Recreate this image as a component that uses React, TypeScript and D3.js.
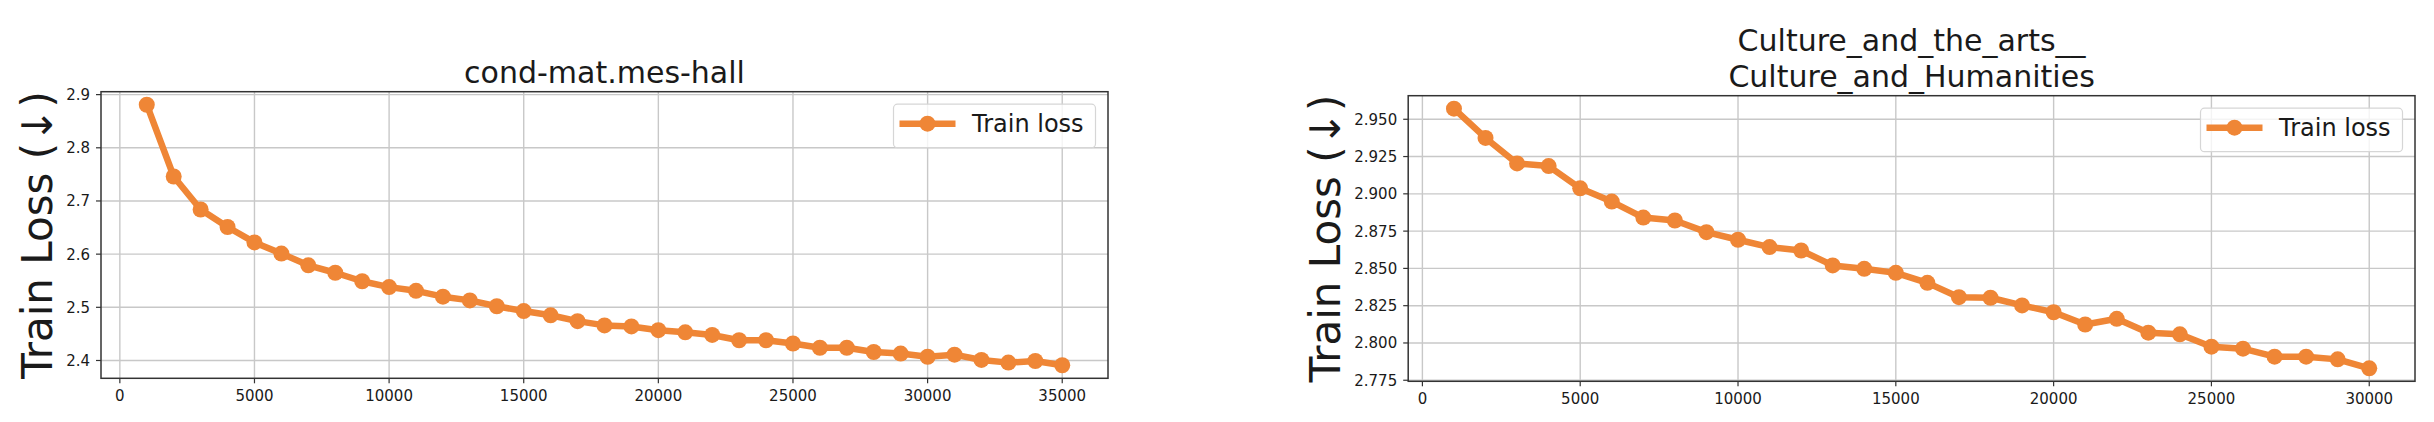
import React from "react";
import * as d3 from "d3";

// ---------- data ----------
const stepsA = [1000,2000,3000,4000,5000,6000,7000,8000,9000,10000,11000,12000,13000,14000,15000,16000,17000,18000,19000,20000,21000,22000,23000,24000,25000,26000,27000,28000,29000,30000,31000,32000,33000,34000,35000];
const lossA = [2.881,2.746,2.684,2.651,2.622,2.601,2.579,2.565,2.549,2.538,2.531,2.520,2.513,2.502,2.493,2.485,2.474,2.466,2.464,2.457,2.453,2.448,2.438,2.438,2.432,2.424,2.424,2.416,2.413,2.407,2.411,2.401,2.396,2.399,2.391];
const xTicksA = [0,5000,10000,15000,20000,25000,30000,35000];
const yTicksA = [2.4,2.5,2.6,2.7,2.8,2.9];
const titleA = ["cond-mat.mes-hall"];

const stepsB = [1000,2000,3000,4000,5000,6000,7000,8000,9000,10000,11000,12000,13000,14000,15000,16000,17000,18000,19000,20000,21000,22000,23000,24000,25000,26000,27000,28000,29000,30000];
const lossB = [2.9571,2.9375,2.9204,2.9186,2.9037,2.8948,2.8841,2.8821,2.8743,2.8692,2.8643,2.8620,2.8520,2.8497,2.8470,2.8403,2.8307,2.8303,2.8252,2.8206,2.8124,2.8162,2.8069,2.8058,2.7975,2.7962,2.7908,2.7908,2.7890,2.7830];
const xTicksB = [0,5000,10000,15000,20000,25000,30000];
const yTicksB = [2.775,2.800,2.825,2.850,2.875,2.900,2.925,2.950];
const titleB = ["Culture_and_the_arts__", "Culture_and_Humanities"];

const seriesName = "Train loss";
const yLabel = "Train Loss (\u2193)";

// ---------- style ----------
const FONT = "DejaVu Sans, Verdana, sans-serif";
const ORANGE = "#ef8636";
const GRID = "#c8c8c8";
const TEXT = "#1a1a1a";

type PanelProps = {
  steps: number[];
  loss: number[];
  xTicks: number[];
  yTicks: number[];
  title: string[];
  left: number; right: number; top: number; bottom: number;
  ylabelX: number;
  yFmt: (v: number) => string;
};

function Panel(p: PanelProps) {
  const xMin = d3.min(p.steps)!, xMax = d3.max(p.steps)!;
  const yMin = d3.min(p.loss)!, yMax = d3.max(p.loss)!;
  const xm = (xMax - xMin) * 0.05, ym = (yMax - yMin) * 0.05;
  const x = d3.scaleLinear().domain([xMin - xm, xMax + xm]).range([p.left, p.right]);
  const y = d3.scaleLinear().domain([yMin - ym, yMax + ym]).range([p.bottom, p.top]);
  const pts = p.steps.map((s, i) => [s, p.loss[i]] as [number, number]);
  const line = d3.line<[number, number]>().x(d => x(d[0])).y(d => y(d[1]));
  const cx = (p.left + p.right) / 2;
  const cy = (p.top + p.bottom) / 2;

  // legend geometry
  const lw = 202, lh = 43.5;
  const lx = p.right - 12.5 - lw, ly = p.top + 12.5;

  return (
    <g>
      {/* grid */}
      {p.xTicks.map(t => (
        <line key={"gx" + t} x1={x(t)} x2={x(t)} y1={p.top} y2={p.bottom} stroke={GRID} strokeWidth={1.4} />
      ))}
      {p.yTicks.map(t => (
        <line key={"gy" + t} x1={p.left} x2={p.right} y1={y(t)} y2={y(t)} stroke={GRID} strokeWidth={1.4} />
      ))}
      {/* ticks & labels */}
      {p.xTicks.map(t => (
        <g key={"tx" + t}>
          <line x1={x(t)} x2={x(t)} y1={p.bottom} y2={p.bottom + 5} stroke="#333" strokeWidth={1.2} />
          <text x={x(t)} y={p.bottom + 23} textAnchor="middle" fontSize={15} fill={TEXT} fontFamily={FONT}>{t}</text>
        </g>
      ))}
      {p.yTicks.map(t => (
        <g key={"ty" + t}>
          <line x1={p.left - 5} x2={p.left} y1={y(t)} y2={y(t)} stroke="#333" strokeWidth={1.2} />
          <text x={p.left - 11} y={y(t) + 5.5} textAnchor="end" fontSize={15} fill={TEXT} fontFamily={FONT}>{p.yFmt(t)}</text>
        </g>
      ))}
      {/* spines */}
      <rect x={p.left} y={p.top} width={p.right - p.left} height={p.bottom - p.top} fill="none" stroke="#333" strokeWidth={1.5} />
      {/* series */}
      <path d={line(pts)!} fill="none" stroke={ORANGE} strokeWidth={6.5} strokeLinejoin="round" />
      {pts.map((d, i) => (
        <circle key={"c" + i} cx={x(d[0])} cy={y(d[1])} r={8} fill={ORANGE} />
      ))}
      {/* legend */}
      <rect x={lx} y={ly} width={lw} height={lh} rx={4} fill="#fff" fillOpacity={0.8} stroke="#d6d6d6" strokeWidth={1.2} />
      <line x1={lx + 6} x2={lx + 62} y1={ly + 19.5} y2={ly + 19.5} stroke={ORANGE} strokeWidth={6.5} />
      <circle cx={lx + 34} cy={ly + 19.5} r={8} fill={ORANGE} />
      <text x={lx + 78.5} y={ly + 28} fontSize={24} fill={TEXT} fontFamily={FONT}>{seriesName}</text>
      {/* title */}
      {p.title.map((t, i) => (
        <text key={"tt" + i} x={cx} y={p.top - 9 - (p.title.length - 1 - i) * 35.5} textAnchor="middle" fontSize={30} fill={TEXT} fontFamily={FONT}>{t}</text>
      ))}
      {/* y label */}
      <text transform={`translate(${p.ylabelX},${cy}) rotate(-90)`} textAnchor="middle" fontSize={42} fill={TEXT} fontFamily={FONT}>{yLabel}</text>
    </g>
  );
}

export default function App() {
  return (
    <div style={{ position: "absolute", left: 0, top: 0 }}>
      <svg width={2434} height={422} style={{ display: "block", background: "#fff" }}>
        <rect width={2434} height={422} fill="#fff" />
        <Panel steps={stepsA} loss={lossA} xTicks={xTicksA} yTicks={yTicksA} title={titleA}
          left={101} right={1108} top={91.7} bottom={378.3} ylabelX={52}
          yFmt={d3.format(".1f")} />
        <Panel steps={stepsB} loss={lossB} xTicks={xTicksB} yTicks={yTicksB} title={titleB}
          left={1408.2} right={2415} top={95.7} bottom={381.3} ylabelX={1340}
          yFmt={d3.format(".3f")} />
      </svg>
    </div>
  );
}
